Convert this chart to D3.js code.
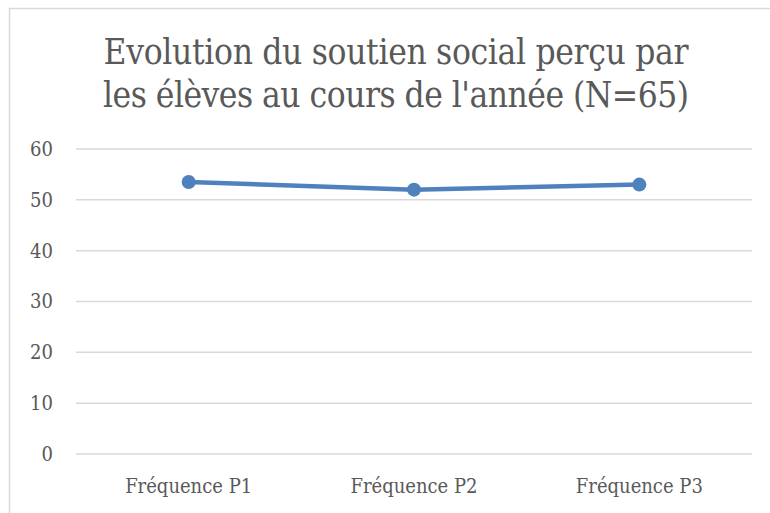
<!DOCTYPE html>
<meta charset="utf-8">
<style>
body { margin: 0; background: #fff; }
svg { font-family: "DejaVu Serif Condensed", "DejaVu Serif", serif; }
.grid line { stroke: #d9d9d9; stroke-width: 1.5px; }
.axis text { fill: #595959; font-size: 20px; font-family: "DejaVu Serif Condensed", "DejaVu Serif", serif; }
.line { fill: none; stroke: #4f81bd; stroke-width: 4.5px; }
.dot { fill: #4f81bd; }
</style>
<svg width="770" height="513"></svg>
<script src="https://d3js.org/d3.v7.min.js"></script>
<script>
var categories = ["Fréquence P1", "Fréquence P2", "Fréquence P3"];
var values = [53.5, 52.0, 53.0];
var yTicks = [0, 10, 20, 30, 40, 50, 60];
var titleLines = ["Evolution du soutien social perçu par", "les élèves au cours de l'année (N=65)"];

var svg = d3.select("svg"),
    margin = {top: 149, right: 18, bottom: 59, left: 76},
    width = svg.attr("width") - margin.left - margin.right,
    height = svg.attr("height") - margin.top - margin.bottom;

// chart frame (top and left edges visible)
svg.append("path")
    .attr("d", "M9.5,520 L9.5,8.5 L770,8.5")
    .attr("fill", "none")
    .attr("stroke", "#d9d9d9")
    .attr("stroke-width", 1.5);

svg.append("g")
    .attr("fill", "#595959")
    .style("font-size", "35px")
  .selectAll("text")
  .data(titleLines)
  .enter().append("text")
    .attr("x", 396)
    .attr("y", function(d, i) { return 64 + i * 43; })
    .attr("text-anchor", "middle")
    .attr("textLength", function(d, i) { return i ? 586 : 585; })
    .attr("lengthAdjust", "spacing")
    .text(function(d) { return d; });

var g = svg.append("g").attr("transform", "translate(" + margin.left + "," + margin.top + ")");

var x = d3.scaleBand().domain(categories).range([0, width]);
var y = d3.scaleLinear().domain([0, 60]).range([height, 0]);

g.append("g")
    .attr("class", "grid")
  .selectAll("line")
  .data(yTicks)
  .enter().append("line")
    .attr("x1", 0)
    .attr("x2", width)
    .attr("y1", function(d) { return y(d); })
    .attr("y2", function(d) { return y(d); });

var yAxis = g.append("g")
    .attr("class", "axis")
    .call(d3.axisLeft(y).tickValues(yTicks).tickSize(0).tickPadding(23));
yAxis.select(".domain").remove();

var xAxis = g.append("g")
    .attr("class", "axis")
    .attr("transform", "translate(0," + height + ")")
    .call(d3.axisBottom(x).tickSize(0).tickPadding(25));
xAxis.select(".domain").remove();

var line = d3.line()
    .x(function(d, i) { return x(categories[i]) + x.bandwidth() / 2; })
    .y(function(d) { return y(d); });

g.append("path")
    .datum(values)
    .attr("class", "line")
    .attr("d", line);

g.selectAll(".dot")
    .data(values)
  .enter().append("circle")
    .attr("class", "dot")
    .attr("cx", function(d, i) { return x(categories[i]) + x.bandwidth() / 2; })
    .attr("cy", function(d) { return y(d); })
    .attr("r", 7);
</script>
